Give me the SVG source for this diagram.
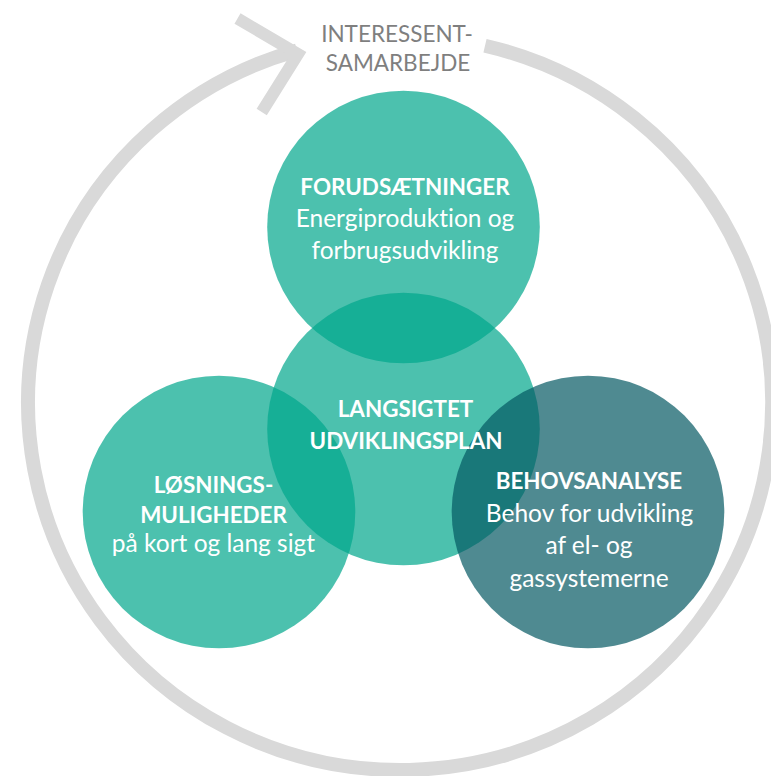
<svg xmlns="http://www.w3.org/2000/svg" width="771" height="776" viewBox="0 0 771 776">
  <style>
    .ring { fill: none; stroke: #d9d9d9; stroke-width: 14; }
    .head { fill: none; stroke: #d9d9d9; stroke-width: 12; stroke-linejoin: miter; stroke-miterlimit: 10; }
    .teal { fill: #00a68b; fill-opacity: 0.7; }
    .petrol { fill: #045963; fill-opacity: 0.7; }
    .t { font-family: Lato, "Open Sans", sans-serif; fill: #ffffff; text-anchor: middle; font-size: 24.5px; font-variant-ligatures: none; }
    .b { font-weight: bold; font-size: 22.4px; }
    .gray { font-family: Lato, "Open Sans", sans-serif; fill: #7f7f7f; text-anchor: middle; font-size: 22.5px; font-variant-ligatures: none; }
  </style>
  <rect width="771" height="776" fill="#ffffff"/>
  <g id="connectors">
    <path class="ring" d="M 485 45.7 A 372 367 0 1 1 297 50.4"/>
    <polyline class="head" points="237.5,18.5 298,54 261.7,112"/>
  </g>
  <g id="interessent">
    <text class="gray" x="397" y="42">INTERESSENT-</text>
    <text class="gray" x="398" y="71">SAMARBEJDE</text>
  </g>
  <g id="losninger">
    <circle class="teal" cx="219" cy="512" r="136.3"/>
  </g>
  <g id="forudsaetninger">
    <circle class="teal" cx="403.5" cy="227" r="136.3"/>
  </g>
  <g id="langsigtet">
    <circle class="teal" cx="403.5" cy="429" r="136.3"/>
  </g>
  <g id="behovsanalyse">
    <circle class="petrol" cx="588" cy="512" r="136.3"/>
  </g>
  <g id="labels">
    <text class="t b" x="405" y="195">FORUDSÆTNINGER</text>
    <text class="t" x="405" y="227">Energiproduktion og</text>
    <text class="t" x="405" y="259">forbrugsudvikling</text>
    <text class="t b" x="405.5" y="417">LANGSIGTET</text>
    <text class="t b" x="406" y="449">UDVIKLINGSPLAN</text>
    <text class="t b" x="213.5" y="493">LØSNINGS-</text>
    <text class="t b" x="213.5" y="523">MULIGHEDER</text>
    <text class="t" x="213.5" y="552">på kort og lang sigt</text>
    <text class="t b" x="589" y="489">BEHOVSANALYSE</text>
    <text class="t" x="589.5" y="521.5">Behov for udvikling</text>
    <text class="t" x="589" y="554">af el- og</text>
    <text class="t" x="589" y="587">gassystemerne</text>
  </g>
</svg>
